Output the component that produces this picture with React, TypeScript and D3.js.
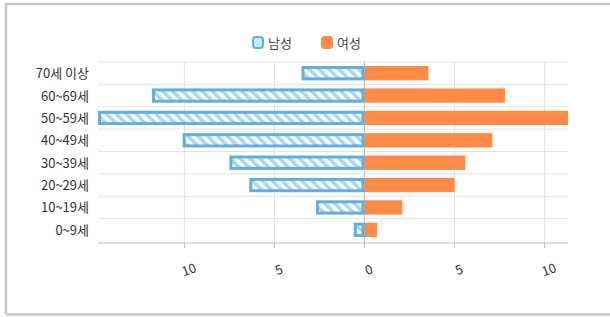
import React from "react";
import { scaleBand, scaleLinear } from "d3";

const ageGroups = ["70세 이상", "60~69세", "50~59세", "40~49세", "30~39세", "20~29세", "10~19세", "0~9세"];
const maleValues = [3.5, 11.8, 14.8, 10.1, 7.5, 6.4, 2.7, 0.6];
const femaleValues = [3.55, 7.8, 11.3, 7.1, 5.6, 5.0, 2.1, 0.7];
const xTicks = [-10, -5, 0, 5, 10];
const seriesNames = ["남성", "여성"];

const W = 610;
const H = 317;
const margins = { top: 62, right: 42, bottom: 76, left: 98 };
const font = "'Noto Sans CJK KR', 'Noto Sans', sans-serif";
const blue = "#5fb0de";
const orange = "#fe8a48";

export default function App() {
	const xScale = scaleLinear()
		.domain([-14.8, 11.3])
		.range([margins.left, W - margins.right]);
	const yScale = scaleBand()
		.domain(ageGroups)
		.range([margins.top, H - margins.bottom])
		.paddingInner(0.36)
		.paddingOuter(0.18);
	const step = yScale.step();
	const bw = yScale.bandwidth();
	const bandTop = (d: string) => (yScale(d) as number) - (step - bw) / 2;
	const axisY = H - margins.bottom + 2;

	return (
		<svg
			width={W}
			height={H}
			style={{ position: "absolute", left: 0, top: 0, fontFamily: font }}
		>
			<defs>
				<pattern id="hatch" width="7" height="7" patternUnits="userSpaceOnUse" patternTransform="rotate(-45)">
					<rect width="7" height="7" fill="#ffffff" />
					<rect width="3.5" height="7" fill="#a9d6ef" />
				</pattern>
			</defs>
			{/* frame */}
			<rect x={0} y={0} width={W} height={H} fill="#fff" />
			<path d={`M6,${H - 3} V4 H${W}`} fill="none" stroke="#c6c6c6" strokeWidth={2.5} />
			<line x1={6} x2={W} y1={H - 2.5} y2={H - 2.5} stroke="#c6c6c6" strokeWidth={2.5} />

			{/* legend */}
			<rect x={253} y={37} width={10} height={11} rx={3} fill="#cfe8f6" stroke={blue} strokeWidth={2} />
			<text x={268} y={48} fontSize={13} fill="#444">{seriesNames[0]}</text>
			<rect x={321} y={36} width={12} height={13} rx={3.5} fill={orange} />
			<text x={337} y={48} fontSize={13} fill="#444">{seriesNames[1]}</text>

			{/* horizontal grid */}
			{ageGroups.map(d => (
				<line key={d} x1={margins.left} x2={W - margins.right} y1={bandTop(d)} y2={bandTop(d)} stroke="#e3e3e3" />
			))}
			{/* vertical grid */}
			{xTicks.map(t => (
				<line key={t} x1={xScale(t)} x2={xScale(t)} y1={margins.top} y2={axisY} stroke={t === 0 ? "#bdbdbd" : "#e3e3e3"} />
			))}

			{/* male bars */}
			{ageGroups.map((d, i) => (
				<rect
					key={"m" + d}
					x={xScale(-maleValues[i]) + 1.5}
					y={(yScale(d) as number) + 1.5}
					width={xScale(0) - xScale(-maleValues[i]) - 3}
					height={bw - 3}
					fill="url(#hatch)"
					stroke={blue}
					strokeWidth={3}
				/>
			))}
			{/* female bars */}
			{ageGroups.map((d, i) => (
				<rect
					key={"f" + d}
					x={xScale(0)}
					y={yScale(d)}
					width={xScale(femaleValues[i]) - xScale(0)}
					height={bw}
					fill={orange}
				/>
			))}

			{/* category labels */}
			{ageGroups.map(d => (
				<text key={"l" + d} x={89} y={(yScale(d) as number) + bw / 2 + 5} fontSize={13} textAnchor="end" fill="#333">
					{d}
				</text>
			))}

			{/* x axis */}
			<line x1={margins.left} x2={W - margins.right} y1={axisY} y2={axisY} stroke="#bdbdbd" />
			{xTicks.map(t => (
				<g key={"t" + t} transform={`translate(${xScale(t)},${axisY})`}>
					<line y2={5} stroke="#bdbdbd" />
					<text
						transform={`translate(${6},${31}) rotate(-20)`}
						fontSize={13}
						textAnchor="middle"
						fill="#333"
					>
						{Math.abs(t)}
					</text>
				</g>
			))}
		</svg>
	);
}
